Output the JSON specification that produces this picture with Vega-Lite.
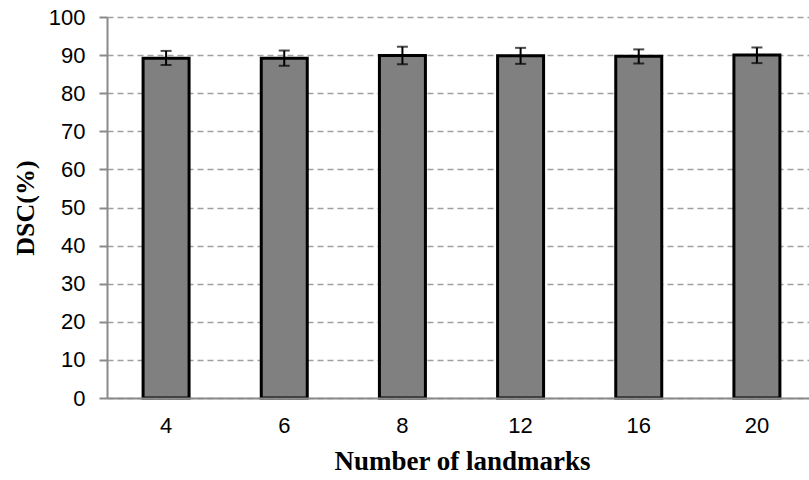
{
  "$schema": "https://vega.github.io/schema/vega-lite/v6.json",
  "autosize": {"type": "none"},
  "padding": {"left": 107, "top": 17, "right": 0, "bottom": 82},
  "width": 702,
  "height": 381,
  "background": "white",
  "config": {"view": {"stroke": null}},
  "data": {
    "values": [
      {"n": "4", "mean": 89.2, "lo": 87.4, "hi": 91.1},
      {"n": "6", "mean": 89.2, "lo": 87.2, "hi": 91.2},
      {"n": "8", "mean": 89.9, "lo": 87.6, "hi": 92.2},
      {"n": "12", "mean": 89.8, "lo": 87.7, "hi": 91.9},
      {"n": "16", "mean": 89.7, "lo": 87.8, "hi": 91.5},
      {"n": "20", "mean": 90.0, "lo": 87.9, "hi": 92.0}
    ]
  },
  "encoding": {
    "x": {
      "field": "n",
      "type": "ordinal",
      "sort": null,
      "scale": {"range": [0, 709], "paddingInner": 0, "paddingOuter": 0},
      "axis": {
        "title": "Number of landmarks",
        "labelAngle": 0,
        "labelFont": "Liberation Sans",
        "labelFontSize": 22,
        "labelColor": "black",
        "labelPadding": 17,
        "ticks": false,
        "domainColor": "#8a8a8a",
        "domainWidth": 2,
        "titleFont": "Liberation Serif",
        "titleFontSize": 27,
        "titleFontWeight": "bold",
        "titleColor": "black",
        "titlePadding": 12,
        "titleX": 355,
        "zindex": 1
      }
    }
  },
  "layer": [
    {
      "mark": {"type": "bar", "size": 46, "fill": "#808080", "stroke": "black", "strokeWidth": 3},
      "encoding": {
        "y": {
          "field": "mean",
          "type": "quantitative",
          "scale": {"domain": [0, 100], "nice": false},
          "axis": {
            "title": "DSC(%)",
            "values": [0, 10, 20, 30, 40, 50, 60, 70, 80, 90, 100],
            "labelOverlap": false,
            "labelFont": "Liberation Sans",
            "labelFontSize": 22,
            "labelColor": "black",
            "labelPadding": 14,
            "tickSize": 8,
            "tickColor": "#8a8a8a",
            "tickWidth": 2,
            "domainColor": "#8a8a8a",
            "domainWidth": 2,
            "grid": true,
            "gridColor": "#a0a0a0",
            "gridWidth": 1.5,
            "gridDash": [6, 4],
            "titleFont": "Liberation Serif",
            "titleFontSize": 26,
            "titleFontWeight": "bold",
            "titleColor": "black",
            "titlePadding": 10
          }
        }
      }
    },
    {
      "mark": {"type": "rule", "stroke": "black", "strokeWidth": 2},
      "encoding": {
        "y": {
          "field": "lo",
          "type": "quantitative",
          "axis": {
            "title": "DSC(%)",
            "values": [0, 10, 20, 30, 40, 50, 60, 70, 80, 90, 100],
            "labelOverlap": false,
            "labelFont": "Liberation Sans",
            "labelFontSize": 22,
            "labelColor": "black",
            "labelPadding": 14,
            "tickSize": 8,
            "tickColor": "#8a8a8a",
            "tickWidth": 2,
            "domainColor": "#8a8a8a",
            "domainWidth": 2,
            "grid": true,
            "gridColor": "#a0a0a0",
            "gridWidth": 1.5,
            "gridDash": [6, 4],
            "titleFont": "Liberation Serif",
            "titleFontSize": 26,
            "titleFontWeight": "bold",
            "titleColor": "black",
            "titlePadding": 10
          }
        },
        "y2": {"field": "hi"}
      }
    },
    {
      "mark": {"type": "tick", "color": "black", "size": 11, "thickness": 2},
      "encoding": {
        "y": {
          "field": "lo",
          "type": "quantitative",
          "axis": {
            "title": "DSC(%)",
            "values": [0, 10, 20, 30, 40, 50, 60, 70, 80, 90, 100],
            "labelOverlap": false,
            "labelFont": "Liberation Sans",
            "labelFontSize": 22,
            "labelColor": "black",
            "labelPadding": 14,
            "tickSize": 8,
            "tickColor": "#8a8a8a",
            "tickWidth": 2,
            "domainColor": "#8a8a8a",
            "domainWidth": 2,
            "grid": true,
            "gridColor": "#a0a0a0",
            "gridWidth": 1.5,
            "gridDash": [6, 4],
            "titleFont": "Liberation Serif",
            "titleFontSize": 26,
            "titleFontWeight": "bold",
            "titleColor": "black",
            "titlePadding": 10
          }
        }
      }
    },
    {
      "mark": {"type": "tick", "color": "black", "size": 11, "thickness": 2},
      "encoding": {
        "y": {
          "field": "hi",
          "type": "quantitative",
          "axis": {
            "title": "DSC(%)",
            "values": [0, 10, 20, 30, 40, 50, 60, 70, 80, 90, 100],
            "labelOverlap": false,
            "labelFont": "Liberation Sans",
            "labelFontSize": 22,
            "labelColor": "black",
            "labelPadding": 14,
            "tickSize": 8,
            "tickColor": "#8a8a8a",
            "tickWidth": 2,
            "domainColor": "#8a8a8a",
            "domainWidth": 2,
            "grid": true,
            "gridColor": "#a0a0a0",
            "gridWidth": 1.5,
            "gridDash": [6, 4],
            "titleFont": "Liberation Serif",
            "titleFontSize": 26,
            "titleFontWeight": "bold",
            "titleColor": "black",
            "titlePadding": 10
          }
        }
      }
    }
  ]
}
